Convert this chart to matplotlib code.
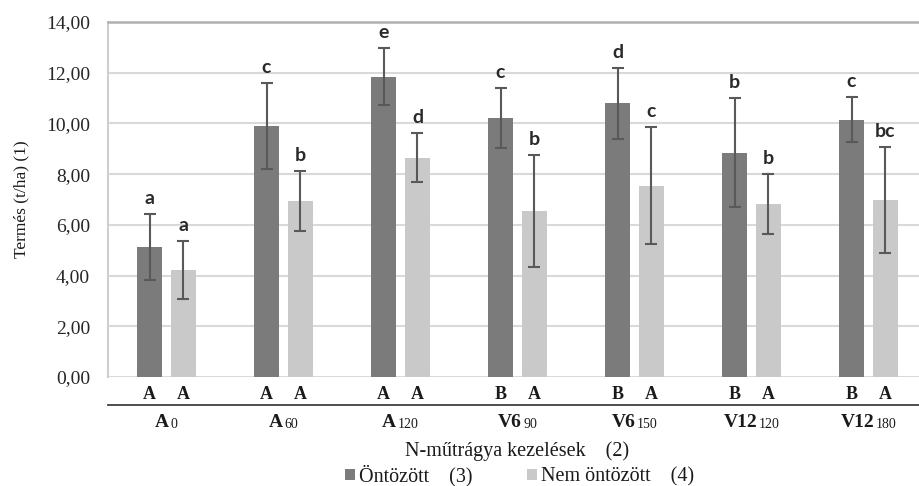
import matplotlib
matplotlib.use("Agg")
import matplotlib.pyplot as plt
from matplotlib.patches import Patch
import numpy as np

cat_base = ["A", "A", "A", "V6", "V6", "V12", "V12"]
cat_sub = ["0", "60", "120", "90", "150", "120", "180"]
ontozott = [5.13, 9.90, 11.85, 10.23, 10.80, 8.85, 10.15]
ontozott_err = [1.30, 1.68, 1.12, 1.18, 1.40, 2.15, 0.88]
nem_ontozott = [4.22, 6.95, 8.65, 6.55, 7.55, 6.83, 6.98]
nem_ontozott_err = [1.15, 1.18, 0.97, 2.20, 2.30, 1.18, 2.10]
lower_ont = ["a", "c", "e", "c", "d", "b", "c"]
lower_nem = ["a", "b", "d", "b", "c", "b", "bc"]
upper_ont = ["A", "A", "A", "B", "B", "B", "B"]
upper_nem = ["A", "A", "A", "A", "A", "A", "A"]
yticks = [0, 2, 4, 6, 8, 10, 12, 14]

serif = 'Liberation Serif'

fig = plt.figure(figsize=(9.19, 4.86), dpi=100)
W, H = 919, 486
left, right, top, zero = 108, 927, 22, 377
ax = fig.add_axes([left / W, (H - zero) / H, (right - left) / W, (zero - top) / H])

x = np.arange(len(cat_base))
bw = 0.22
off = 0.145
dark = '#7b7b7b'
light = '#c9c9c9'
ecol = '#595959'

ax.bar(x - off, ontozott, bw, color=dark, zorder=2)
ax.bar(x + off, nem_ontozott, bw, color=light, zorder=2)
ax.errorbar(x - off, ontozott, yerr=ontozott_err, fmt='none', ecolor=ecol,
            elinewidth=1.5, capsize=4.5, capthick=1.5, zorder=3)
ax.errorbar(x + off, nem_ontozott, yerr=nem_ontozott_err, fmt='none', ecolor=ecol,
            elinewidth=1.5, capsize=4.5, capthick=1.5, zorder=3)

for i in range(len(cat_base)):
    ax.annotate(lower_ont[i], (x[i] - off, ontozott[i] + ontozott_err[i]), xytext=(0, 5),
                textcoords='offset points', ha='center', va='bottom', fontsize=14,
                family='Lato', fontweight='bold', color='#2a2a2a')
    ax.annotate(lower_nem[i], (x[i] + off, nem_ontozott[i] + nem_ontozott_err[i]), xytext=(0, 5),
                textcoords='offset points', ha='center', va='bottom', fontsize=14,
                family='Lato', fontweight='bold', color='#2a2a2a')
    ax.text(x[i] - off, -0.68, upper_ont[i], ha='center', va='center', fontsize=13,
            family=serif, fontweight='bold', clip_on=False, color='#1a1a1a')
    ax.text(x[i] + off, -0.68, upper_nem[i], ha='center', va='center', fontsize=13,
            family=serif, fontweight='bold', clip_on=False, color='#1a1a1a')

ax.set_ylim(0, 14)
ax.set_xlim(-0.5, 6.5)
ax.set_yticks(yticks)
ax.set_yticklabels([f"{v:.2f}".replace('.', ',') for v in yticks], family=serif, fontsize=14,
                   color='#262626')
ax.set_xticks(x)
ax.set_xticklabels([])
ax.tick_params(axis='both', length=0)
ax.tick_params(axis='y', pad=13)

# category labels with subscripts
renderer = fig.canvas.get_renderer()
base_y = -1.97
px_per_unit = ax.transData.transform((1, 0))[0] - ax.transData.transform((0, 0))[0]
for i in range(len(cat_base)):
    tb = ax.text(x[i], base_y, cat_base[i], ha='right', va='baseline', fontsize=14,
                 family=serif, fontweight='bold', clip_on=False, color='#1a1a1a')
    ts = ax.text(x[i], base_y, cat_sub[i], ha='left', va='top', fontsize=10,
                 family=serif, clip_on=False, color='#1a1a1a')
    wb = tb.get_window_extent(renderer).width
    ws = ts.get_window_extent(renderer).width
    gap = 1.5
    p = x[i] + ((wb - ws - gap) / 2) / px_per_unit
    tb.set_x(p)
    ts.set_x(p + gap / px_per_unit)
    ts.set_y(base_y + 0.35)

ax.yaxis.grid(True, color='#d9d9d9', linewidth=1.5, zorder=0)
ax.set_axisbelow(True)
ax.spines['right'].set_visible(False)
ax.spines['top'].set_color('#b0b0b0')
ax.spines['top'].set_linewidth(1.8)
ax.spines['left'].set_color('#cfcfcf')
ax.spines['left'].set_linewidth(1.5)
ax.spines['bottom'].set_position(('outward', 20))
ax.spines['bottom'].set_color('#404040')
ax.spines['bottom'].set_linewidth(1.3)

ax.set_ylabel("Termés (t/ha) (1)", family=serif, fontsize=12.5, labelpad=12, color='#1a1a1a')
ax.set_xlabel("N-műtrágya kezelések    (2)", family=serif, fontsize=14.5, labelpad=23,
              color='#1a1a1a')

handles = [Patch(facecolor=dark, edgecolor='none'), Patch(facecolor=light, edgecolor='none')]
fig.legend(handles, ["Öntözött    (3)", "Nem öntözött    (4)"], loc='center left',
           bbox_to_anchor=(345 / W, 1 - 476 / H), ncol=2, frameon=False,
           prop={'family': serif, 'size': 14.5}, handlelength=0.5, handleheight=0.5,
           handletextpad=0.2, columnspacing=2.7, borderaxespad=0, borderpad=0,
           labelcolor='#1a1a1a')

fig.savefig('out.png', dpi=100)
